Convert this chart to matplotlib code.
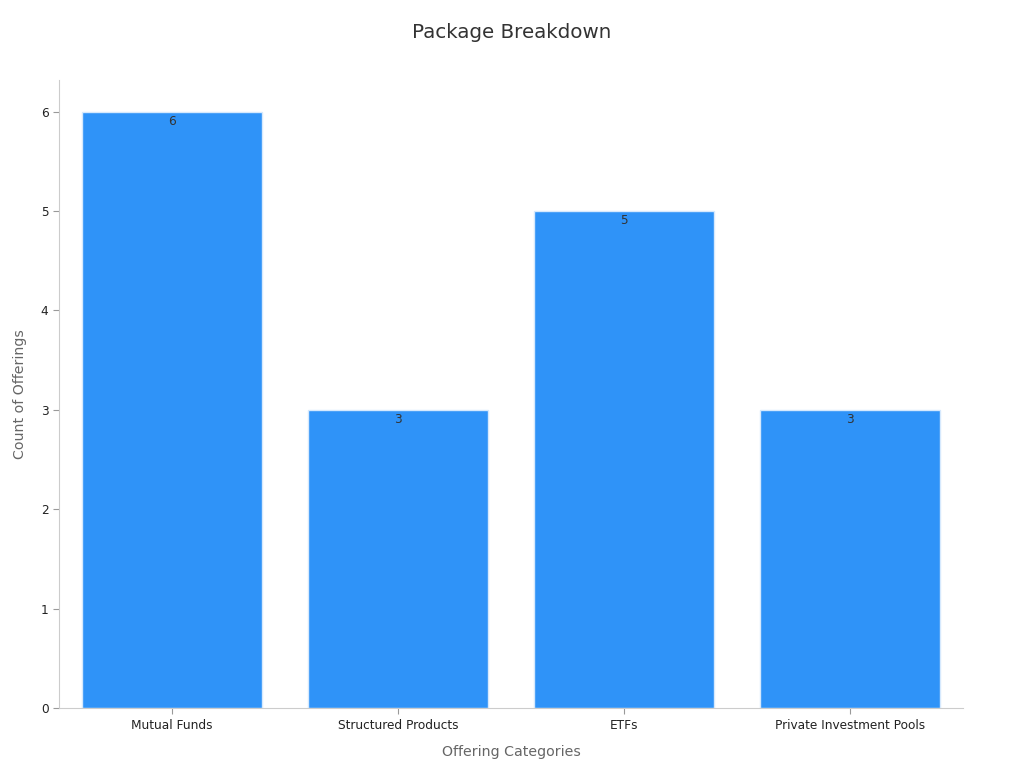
import matplotlib
matplotlib.use("Agg")
import matplotlib.pyplot as plt

categories = ["Mutual Funds", "Structured Products", "ETFs", "Private Investment Pools"]
counts = [6, 3, 5, 3]

fig = plt.figure(figsize=(10.24, 7.68), dpi=100)
ax = fig.add_axes([0.0576, 0.078, 0.8828, 0.818])

x = range(len(categories))
bars = ax.bar(x, counts, width=0.8, color="#2F93F8", edgecolor="#D6E9FD", linewidth=1)

for b, v in zip(bars, counts):
    ax.text(b.get_x() + b.get_width() / 2, v - 0.03, str(v),
            ha="center", va="top", fontsize=8.7, color="#333333")

ax.set_xlim(-0.5, 3.5)
ax.set_ylim(0, 6.32)
ax.set_xticks(list(x))
ax.set_xticklabels(categories, fontsize=8.7, color="#222222")
ax.tick_params(axis="y", labelsize=8.7, labelcolor="#222222", color="#999999", length=4)
ax.tick_params(axis="x", color="#999999", length=4)

for s in ["top", "right"]:
    ax.spines[s].set_visible(False)
for s in ["left", "bottom"]:
    ax.spines[s].set_color("#CCCCCC")

ax.set_xlabel("Offering Categories", fontsize=10.2, color="#666666", labelpad=10)
ax.set_ylabel("Count of Offerings", fontsize=10.2, color="#666666", labelpad=10)
fig.suptitle("Package Breakdown", fontsize=14.3, color="#333333", y=0.97)

fig.savefig("out.png", dpi=100)
